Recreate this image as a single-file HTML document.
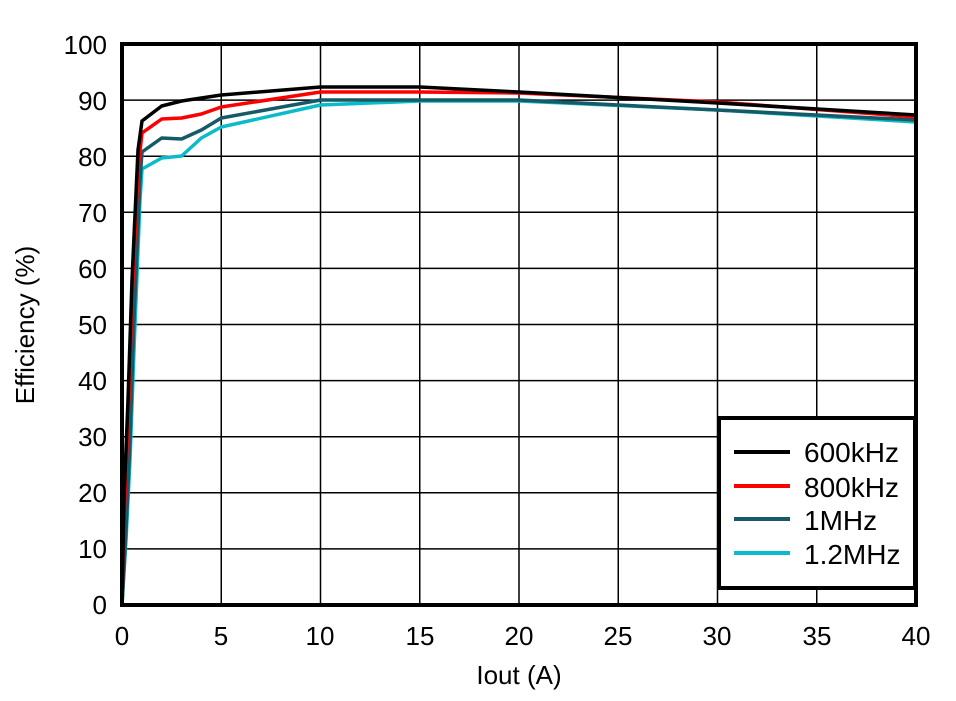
<!DOCTYPE html>
<html><head><meta charset="utf-8"><style>body{margin:0;background:#fff}svg{display:block}text{font-family:"Liberation Sans",Arial,sans-serif;fill:#000}</style></head>
<body><svg width="956" height="701" viewBox="0 0 956 701">
<rect width="956" height="701" fill="#fff"/>
<g stroke="#000" stroke-width="1.5">
<line x1="221.25" y1="44" x2="221.25" y2="605"/><line x1="320.5" y1="44" x2="320.5" y2="605"/><line x1="419.75" y1="44" x2="419.75" y2="605"/><line x1="519" y1="44" x2="519" y2="605"/><line x1="618.25" y1="44" x2="618.25" y2="605"/><line x1="717.5" y1="44" x2="717.5" y2="605"/><line x1="816.75" y1="44" x2="816.75" y2="605"/>
<line x1="122" y1="100.1" x2="916" y2="100.1"/><line x1="122" y1="156.2" x2="916" y2="156.2"/><line x1="122" y1="212.3" x2="916" y2="212.3"/><line x1="122" y1="268.4" x2="916" y2="268.4"/><line x1="122" y1="324.5" x2="916" y2="324.5"/><line x1="122" y1="380.6" x2="916" y2="380.6"/><line x1="122" y1="436.7" x2="916" y2="436.7"/><line x1="122" y1="492.8" x2="916" y2="492.8"/><line x1="122" y1="548.9" x2="916" y2="548.9"/>
</g>
<g fill="none" stroke-width="3.5" stroke-linejoin="round">
<polyline stroke="#0abbc9" points="122,605 126,540 130,460 134,350 140,200 142,169 161.7,158 181.6,156 201.4,138 221.3,127 320.5,105 419.8,101 519,101 717.5,110 916,122"/>
<polyline stroke="#155a66" points="122,605 126,530 130,440 134,320 140,180 142,152 161.7,138 181.6,139 201.4,130 221.3,118 320.5,100 419.8,100 519,100 717.5,110 916,120"/>
<polyline stroke="#ff0000" points="122,605 124,520 128,420 132,300 138,170 142,133 161.7,119 181.6,118 201.4,114 221.3,107 320.5,92 419.8,92 519,93 717.5,102 916,117"/>
<polyline stroke="#000" points="122,605 124,500 128,400 132,280 138,150 142,121 161.7,106 181.6,101 201.4,98 221.3,95 320.5,87 419.8,87 519,92 717.5,103 916,115"/>
</g>
<rect x="122" y="44" width="794" height="561" fill="none" stroke="#000" stroke-width="4"/>
<rect x="719" y="418" width="196" height="170" fill="#fff" stroke="#000" stroke-width="4"/>
<g stroke-width="4"><line x1="734" y1="452" x2="790" y2="452" stroke="#000"/><line x1="734" y1="486" x2="790" y2="486" stroke="#ff0000"/><line x1="734" y1="519" x2="790" y2="519" stroke="#155a66"/><line x1="734" y1="553" x2="790" y2="553" stroke="#0abbc9"/></g>
<g font-size="28"><text x="804" y="462">600kHz</text><text x="804" y="497">800kHz</text><text x="804" y="530">1MHz</text><text x="804" y="564">1.2MHz</text></g>
<g font-size="26" text-anchor="end"><text x="107" y="614">0</text><text x="107" y="558">10</text><text x="107" y="502">20</text><text x="107" y="446">30</text><text x="107" y="390">40</text><text x="107" y="334">50</text><text x="107" y="278">60</text><text x="107" y="222">70</text><text x="107" y="166">80</text><text x="107" y="110">90</text><text x="107" y="54">100</text></g>
<g font-size="26" text-anchor="middle"><text x="122" y="645">0</text><text x="221" y="645">5</text><text x="320" y="645">10</text><text x="420" y="645">15</text><text x="519" y="645">20</text><text x="618" y="645">25</text><text x="717" y="645">30</text><text x="817" y="645">35</text><text x="916" y="645">40</text>
<text x="519" y="684">Iout (A)</text>
<text transform="translate(34,325) rotate(-90)">Efficiency (%)</text></g>
</svg></body></html>
